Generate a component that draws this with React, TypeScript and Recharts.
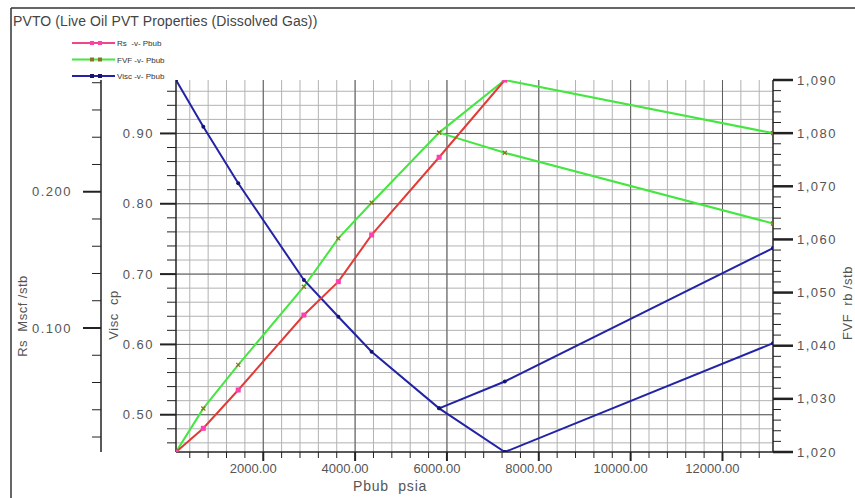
import { LineChart, Line, XAxis, YAxis, CartesianGrid } from "recharts";

const FONT = '"Liberation Sans", Arial, sans-serif';

// saturated table (bubble point line)
const pbub = [100, 695, 1455, 2885, 3635, 4360, 5830, 7260];
const rs = [0.009, 0.0264, 0.0545, 0.1095, 0.134, 0.1683, 0.2253, 0.282];
const fvf = [1.02, 1.0282, 1.0364, 1.0511, 1.0602, 1.0669, 1.0801, 1.09];
const visc = [0.976, 0.9096, 0.8291, 0.6916, 0.6394, 0.5896, 0.5091, 0.447];

// undersaturated branches
const upperP = [7260, 13100];
const upperFvf = [1.09, 1.08];
const upperVisc = [0.447, 0.6016];
const lowerP = [5830, 7260, 13100];
const lowerFvf = [1.0801, 1.0763, 1.063];
const lowerVisc = [0.5091, 0.5473, 0.737];

const steps = (from: number, to: number, step: number) => {
  const out: number[] = [];
  for (let v = from; v <= to + step / 1000; v += step) out.push(Math.round(v * 10000) / 10000);
  return out;
};

const xMajor = [2000, 4000, 6000, 8000, 10000, 12000];
const xTicks = steps(400, 12800, 400);
const rsMajor = [0.1, 0.2];
const rsTicks = steps(0.02, 0.28, 0.02);
const viscMajor = [0.5, 0.6, 0.7, 0.8, 0.9];
const viscTicks = steps(0.46, 0.96, 0.02);
const fvfMajor = [1.02, 1.03, 1.04, 1.05, 1.06, 1.07, 1.08, 1.09];
const fvfTicks = steps(1.02, 1.09, 0.002);

const rows = (ps: number[], vs: number[]) => ps.map((p, i) => ({ p, v: vs[i] }));

// left axes get stacked by id, the first id sits next to the plot
const VISC = "a-visc";
const RS = "b-rs";

const RED = "#e23a36";
const PINK = "#ff3fae";
const GREEN = "#44e640";
const OLIVE = "#8a7420";
const BLUE = "#2323a6";
const AXIS = "#222";
const LABEL = "#555";

const isIn = (list: number[], v: number) => list.some((m) => Math.abs(m - v) < 1e-6);

const scaleOf = (axis: any) => {
  const s = axis?.scale;
  if (!s) return (_: number) => NaN;
  return typeof s === "function" ? (v: number) => s(v) : (v: number) => s.map(v);
};

const leftTick = (major: number[], fmt: (v: number) => string, big: number, gap: number) => (props: any) => {
  const { x, y, payload } = props;
  const m = isIn(major, payload.value);
  return (
    <g>
      <line x1={x} x2={x - (m ? big : 9)} y1={y} y2={y} stroke={AXIS} strokeWidth={m ? 2 : 1} />
      {m && (
        <text x={x - gap} y={y + 4.5} textAnchor="end" fontSize={13} letterSpacing={1.5} fill={LABEL} fontFamily={FONT}>
          {fmt(payload.value)}
        </text>
      )}
    </g>
  );
};

const rightTick = (props: any) => {
  const { x, y, payload } = props;
  const m = isIn(fvfMajor, payload.value);
  return (
    <g>
      <line x1={x} x2={x + (m ? 20 : 8)} y1={y} y2={y} stroke={AXIS} strokeWidth={m ? 2.5 : 1} />
      {m && (
        <text x={x + 24} y={y + 4.5} fontSize={13} letterSpacing={1.5} fill={LABEL} fontFamily={FONT}>
          {payload.value.toFixed(3).replace(".", ",")}
        </text>
      )}
    </g>
  );
};

const bottomTick = (props: any) => {
  const { x, y, payload } = props;
  const m = isIn(xMajor, payload.value);
  return (
    <g>
      <line x1={x} x2={x} y1={y} y2={y + (m ? 9 : 6)} stroke={AXIS} strokeWidth={m ? 2 : 1} />
      {m && (
        <text x={x - 10} y={y + 21} textAnchor="middle" fontSize={13} fill={LABEL} fontFamily={FONT}>
          {payload.value.toFixed(2)}
        </text>
      )}
    </g>
  );
};

const vTitle = (text: string, dx: number, dy: number) => (props: any) => {
  const vb = props.viewBox;
  const cx = vb.x + dx;
  const cy = vb.y + vb.height / 2 + dy;
  return (
    <text
      x={cx}
      y={cy}
      transform={`rotate(-90 ${cx} ${cy})`}
      textAnchor="middle"
      dominantBaseline="central"
      fontSize={13}
      letterSpacing={0.5}
      fill={LABEL}
      fontFamily={FONT}
      style={{ whiteSpace: "pre" }}
    >
      {text}
    </text>
  );
};

const xTitle = (props: any) => {
  const vb = props.viewBox;
  return (
    <text x={vb.x + 177} y={vb.y + 39} fontSize={14} letterSpacing={0.8} fill={LABEL} fontFamily={FONT} style={{ whiteSpace: "pre" }}>
      {"Pbub  psia"}
    </text>
  );
};

const rsDot = (props: any) => (
  <rect key={`rs-${props.index}`} x={props.cx - 2.5} y={props.cy - 2.5} width={5} height={5} fill={PINK} />
);
const fvfDot = (props: any) => (
  <path
    key={`fvf-${props.index}-${props.cx}`}
    d={`M${props.cx - 2},${props.cy - 2}L${props.cx + 2},${props.cy + 2}M${props.cx - 2},${props.cy + 2}L${props.cx + 2},${props.cy - 2}`}
    stroke={OLIVE}
    strokeWidth={1.3}
  />
);
const viscDot = (props: any) => (
  <circle key={`vi-${props.index}-${props.cx}`} cx={props.cx} cy={props.cy} r={2} fill="#15156e" />
);

const legend = [
  { label: "Rs  -v- Pbub", color: "#f0468a", mark: PINK },
  { label: "FVF -v- Pbub", color: GREEN, mark: OLIVE },
  { label: "Visc -v- Pbub", color: BLUE, mark: "#15156e" },
];

export default function App() {
  return (
    <div style={{ position: "absolute", left: 0, top: 0, width: 855, height: 498, background: "#fff", fontFamily: FONT }}>
      <LineChart width={855} height={498} margin={{ top: 80, right: 0, bottom: 0, left: 11 }}>
        <CartesianGrid
          xAxisId="p"
          yAxisId={VISC}
          stroke="#b2b2b2"
          verticalCoordinatesGenerator={({ xAxis }: any) => xTicks.map(scaleOf(xAxis))}
          horizontalCoordinatesGenerator={({ yAxis }: any) => viscTicks.map(scaleOf(yAxis))}
        />
        <CartesianGrid
          xAxisId="p"
          yAxisId={VISC}
          stroke="#5e5e5e"
          verticalCoordinatesGenerator={({ xAxis }: any) => xMajor.map(scaleOf(xAxis))}
          horizontalCoordinatesGenerator={({ yAxis }: any) => viscMajor.map(scaleOf(yAxis))}
        />
        <XAxis
          xAxisId="p"
          type="number"
          dataKey="p"
          domain={[100, 13100]}
          allowDataOverflow
          ticks={xTicks}
          interval={0}
          tickSize={0}
          tickMargin={0}
          tickLine={false}
          tick={bottomTick}
          axisLine={{ stroke: AXIS, strokeWidth: 1.5 }}
          height={46}
          label={xTitle}
        />
        <YAxis
          yAxisId={VISC}
          orientation="left"
          width={75}
          type="number"
          domain={[0.447, 0.976]}
          allowDataOverflow
          ticks={viscTicks}
          interval={0}
          tickSize={0}
          tickMargin={0}
          tickLine={false}
          tick={leftTick(viscMajor, (v) => v.toFixed(2), 16, 22)}
          axisLine={{ stroke: AXIS, strokeWidth: 1.5 }}
          label={vTitle("Visc  cp", 12, 49)}
        />
        <YAxis
          yAxisId={RS}
          orientation="left"
          width={90}
          type="number"
          domain={[0.009, 0.282]}
          allowDataOverflow
          ticks={rsTicks}
          interval={0}
          tickSize={0}
          tickMargin={0}
          tickLine={false}
          tick={leftTick(rsMajor, (v) => v.toFixed(3), 18, 29)}
          axisLine={{ stroke: AXIS, strokeWidth: 1.5 }}
          label={vTitle("Rs  Mscf /stb", 11.5, 50)}
        />
        <YAxis
          yAxisId="fvf"
          orientation="right"
          width={82}
          type="number"
          domain={[1.02, 1.09]}
          allowDataOverflow
          ticks={fvfTicks}
          interval={0}
          tickSize={0}
          tickMargin={0}
          tickLine={false}
          tick={rightTick}
          axisLine={{ stroke: AXIS, strokeWidth: 1.5 }}
          label={vTitle("FVF  rb /stb", 74, 37)}
        />
        <Line xAxisId="p" yAxisId="fvf" data={rows(upperP, upperFvf)} dataKey="v" stroke={GREEN} strokeWidth={2} dot={fvfDot} activeDot={false} isAnimationActive={false} />
        <Line xAxisId="p" yAxisId="fvf" data={rows(lowerP, lowerFvf)} dataKey="v" stroke={GREEN} strokeWidth={2} dot={fvfDot} activeDot={false} isAnimationActive={false} />
        <Line xAxisId="p" yAxisId="fvf" data={rows(pbub, fvf)} dataKey="v" stroke={GREEN} strokeWidth={2} dot={fvfDot} activeDot={false} isAnimationActive={false} />
        <Line xAxisId="p" yAxisId={VISC} data={rows(upperP, upperVisc)} dataKey="v" stroke={BLUE} strokeWidth={2} dot={viscDot} activeDot={false} isAnimationActive={false} />
        <Line xAxisId="p" yAxisId={VISC} data={rows(lowerP, lowerVisc)} dataKey="v" stroke={BLUE} strokeWidth={2} dot={viscDot} activeDot={false} isAnimationActive={false} />
        <Line xAxisId="p" yAxisId={VISC} data={rows(pbub, visc)} dataKey="v" stroke={BLUE} strokeWidth={2} dot={viscDot} activeDot={false} isAnimationActive={false} />
        <Line xAxisId="p" yAxisId={RS} data={rows(pbub, rs)} dataKey="v" stroke={RED} strokeWidth={2} dot={rsDot} activeDot={false} isAnimationActive={false} />
      </LineChart>
      <svg width={855} height={498} style={{ position: "absolute", left: 0, top: 0, pointerEvents: "none" }}>
        <line x1={11} y1={8} x2={855} y2={8} stroke="#333" strokeWidth={1.5} />
        <line x1={11} y1={8} x2={11} y2={498} stroke="#333" strokeWidth={1.5} />
        <text x={13} y={26} fontSize={14} letterSpacing={0.1} fill="#444" fontFamily={FONT}>
          PVTO (Live Oil PVT Properties (Dissolved Gas))
        </text>
        {legend.map((e, i) => {
          const y = 43 + i * 16.5;
          return (
            <g key={e.label}>
              <line x1={72} x2={115} y1={y} y2={y} stroke={e.color} strokeWidth={2} />
              <rect x={90} y={y - 2} width={4} height={4} fill={e.mark} />
              <rect x={98} y={y - 2} width={4} height={4} fill={e.mark} />
              <text x={117} y={y + 3} fontSize={8} fill="#333" fontFamily={FONT} style={{ whiteSpace: "pre" }}>
                {e.label}
              </text>
            </g>
          );
        })}
      </svg>
    </div>
  );
}
